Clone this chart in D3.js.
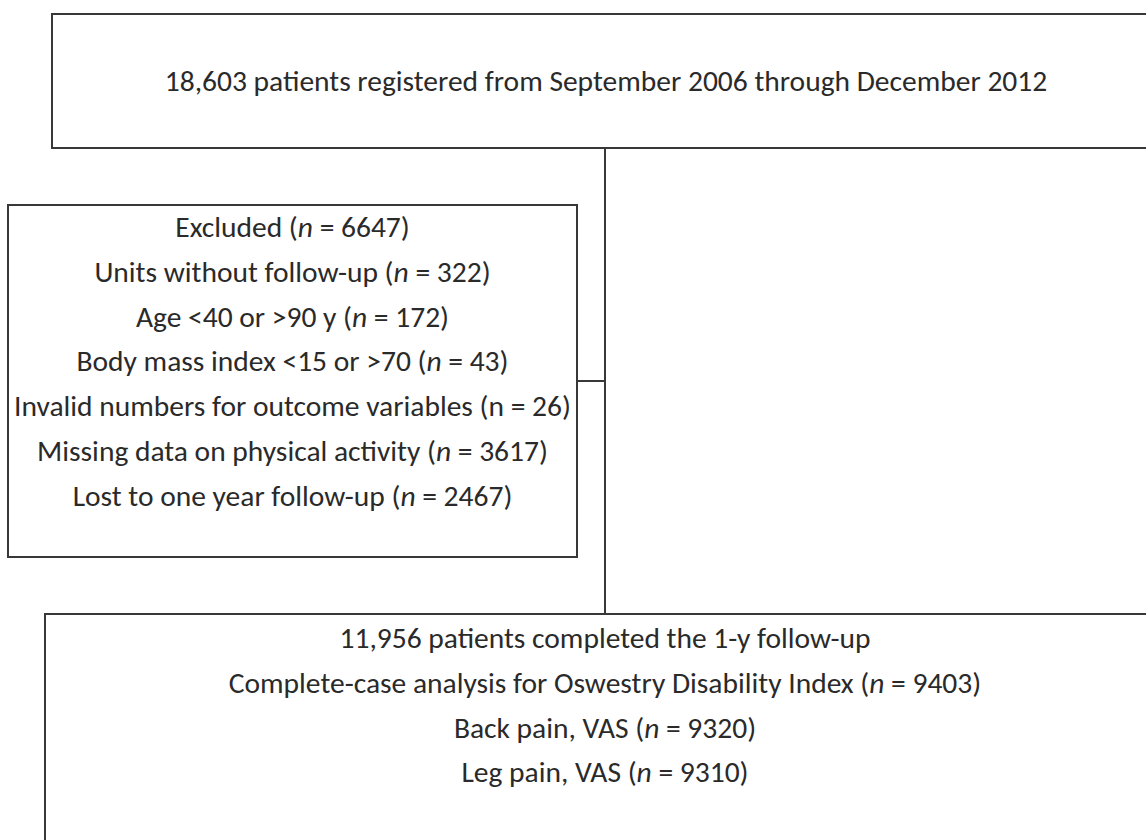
<!DOCTYPE html>
<html>
<head>
<meta charset="utf-8">
<script src="https://cdn.jsdelivr.net/npm/d3@7"></script>
<style>
  body { margin: 0; background: #fff; }
  svg text { font-family: Carlito, "Open Sans", sans-serif; fill: #2a2a2a; }
</style>
</head>
<body>
<svg width="1146" height="840"></svg>
<script>
// box texts; each line is a list of [text, italic] pieces
var topLines = [
  [["18,603 patients registered from September 2006 through December 2012", false]]
];
var excludedLines = [
  [["Excluded (", false], ["n", true], [" = 6647)", false]],
  [["Units without follow-up (", false], ["n", true], [" = 322)", false]],
  [["Age <40 or >90 y (", false], ["n", true], [" = 172)", false]],
  [["Body mass index <15 or >70 (", false], ["n", true], [" = 43)", false]],
  [["Invalid numbers for outcome variables (n = 26)", false]],
  [["Missing data on physical activity (", false], ["n", true], [" = 3617)", false]],
  [["Lost to one year follow-up (", false], ["n", true], [" = 2467)", false]]
];
var finalLines = [
  [["11,956 patients completed the 1-y follow-up", false]],
  [["Complete-case analysis for Oswestry Disability Index (", false], ["n", true], [" = 9403)", false]],
  [["Back pain, VAS (", false], ["n", true], [" = 9320)", false]],
  [["Leg pain, VAS (", false], ["n", true], [" = 9310)", false]]
];

var svg = d3.select('svg');
var stroke = '#383838';
var fontSize = 29.5;
var lineGap = 44.8;

// layout of the boxes
var boxes = [
  {x: 52, y: 14, w: 1108, h: 134, lines: topLines, firstY: 81},
  {x: 8, y: 205, w: 569, h: 352, lines: excludedLines, firstY: 227},
  {x: 45, y: 614, w: 1120, h: 260, lines: finalLines, firstY: 638}
];

var spineX = 605;

// connectors
svg.append('line')
  .attr('x1', spineX).attr('x2', spineX)
  .attr('y1', boxes[0].y + boxes[0].h).attr('y2', boxes[2].y)
  .attr('stroke', stroke).attr('stroke-width', 2);
svg.append('line')
  .attr('x1', boxes[1].x + boxes[1].w).attr('x2', spineX)
  .attr('y1', 381).attr('y2', 381)
  .attr('stroke', stroke).attr('stroke-width', 2);

var g = svg.selectAll('g.box')
  .data(boxes)
  .enter()
  .append('g')
  .attr('class', 'box');

g.append('rect')
  .attr('x', d => d.x)
  .attr('y', d => d.y)
  .attr('width', d => d.w)
  .attr('height', d => d.h)
  .attr('fill', 'none')
  .attr('stroke', stroke)
  .attr('stroke-width', 2);

g.each(function(b) {
  var y = d3.scaleLinear().domain([0, 1]).range([b.firstY, b.firstY + lineGap]);
  var t = d3.select(this).selectAll('text')
    .data(b.lines)
    .enter()
    .append('text')
    .attr('x', b.x + b.w / 2)
    .attr('y', (d, i) => y(i))
    .attr('text-anchor', 'middle')
    .attr('dominant-baseline', 'central')
    .attr('font-size', fontSize);
  t.selectAll('tspan')
    .data(d => d)
    .enter()
    .append('tspan')
    .attr('font-style', d => d[1] ? 'italic' : 'normal')
    .text(d => d[0]);
});
</script>
</body>
</html>
